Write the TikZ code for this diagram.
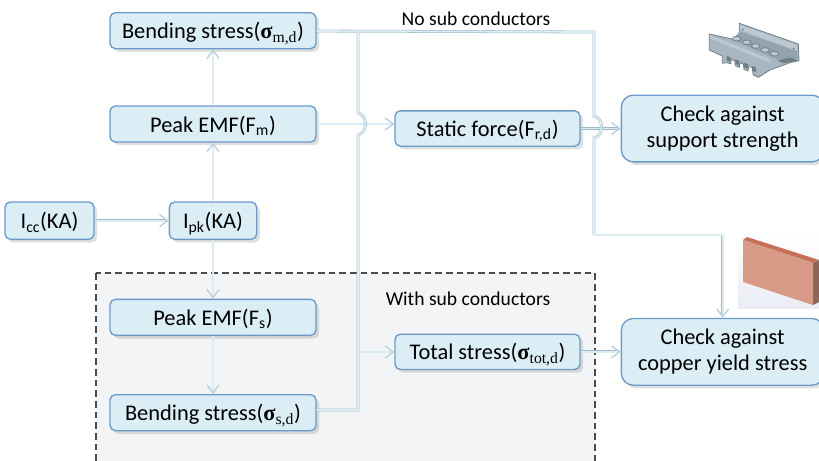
\documentclass[tikz,border=0pt]{standalone}
\usepackage{fontspec}
\setmainfont{Carlito}
\newfontfamily\sigmafont{Liberation Serif}
\usetikzlibrary{arrows.meta, positioning, shadows}

\definecolor{boxfill}{HTML}{DBEEF6}
\definecolor{boxline}{HTML}{6C9BC8}
\definecolor{wirefill}{HTML}{DCECF3}
\definecolor{wireline}{HTML}{A0BAC8}
\definecolor{wiretip}{HTML}{B9D0DC}
\definecolor{areafill}{HTML}{F3F4F5}
\definecolor{clampfill}{HTML}{A7B6C0}
\definecolor{clamplight}{HTML}{BCC9D1}
\definecolor{clampmid}{HTML}{93A3AE}
\definecolor{clampdark}{HTML}{6F7F89}
\definecolor{barfront}{HTML}{D69A87}
\definecolor{bartop}{HTML}{C8705A}
\definecolor{barside}{HTML}{8C6659}
\definecolor{barback}{HTML}{E9ECF4}

\newcommand{\sigmasub}[1]{{\sigmafont\bfseries σ}\textsubscript{\sigmafont #1}}

\begin{document}
\begin{tikzpicture}
            [x=0.75pt, y=-0.75pt, >={Straight Barb[length=6pt,width=9pt,line width=1pt,color=wiretip]},
            flowbox/.style={rectangle, rounded corners=4pt, align=center, draw=boxline,
                line width=1pt, fill=boxfill, font=\fontsize{16.8}{19.5}\selectfont,
                inner sep=0pt, drop shadow={opacity=0.25, shift={(0.6pt,-0.9pt)}}},
            linebox/.style={flowbox, text height=14pt, text depth=2pt},
            widebox/.style={linebox, minimum width=154.5pt, minimum height=27pt},
            checkbox/.style={flowbox, rounded corners=9pt, minimum width=152pt, minimum height=50pt},
            wire/.style={draw=wireline, line width=0.4pt, double=wirefill, double distance=1.3pt},
            note/.style={font=\fontsize{14.7}{17}\selectfont, inner sep=0pt}]

            \clip (0,0) rectangle (819,461);

            \draw[fill=areafill, draw=black!70, line width=0.9pt, dash pattern=on 5pt off 3pt]
                (96,273) rectangle (595,475);

            \node[widebox] (peakm) at (213,124) {Peak EMF(F\textsubscript{m})};
            \node[widebox] (bendm) [above = 42pt of peakm] {Bending stress(\sigmasub{m,d})};
            \node[linebox, minimum width=65.5pt, minimum height=28pt] (ipk) [below = 44pt of peakm] {I\textsubscript{pk}(KA)};
            \node[linebox, minimum width=66.75pt, minimum height=28pt] (icc) [left = 55.5pt of ipk] {I\textsubscript{cc}(KA)};
            \node[widebox] (peaks) [below = 44pt of ipk] {Peak EMF(F\textsubscript{s})};
            \node[widebox] (bends) [below = 43.5pt of peaks] {Bending stress(\sigmasub{s,d})};
            \node[linebox, minimum width=138.75pt, minimum height=26.5pt] (static) at (487.5,128.5) {Static force(F\textsubscript{r,d})};
            \node[linebox, minimum width=138.75pt, minimum height=26.5pt] (total) [below = 140pt of static] {Total stress(\sigmasub{tot,d})};
            \node[checkbox] (support) [right = 30pt of static] {Check against\\support strength};
            \node[checkbox] (copper) [right = 30pt of total] {Check against\\copper yield stress};

            \node[note] (nosub) at (476,19) {No sub conductors};
            \node[note] (withsub) at (468,299) {With sub conductors};

            \coordinate (tapm) at (358,32);
            \coordinate (turnm) at (594,32);
            \coordinate (turnlow) at (594,235);
            \coordinate (tapsum) at (358,352);
            \coordinate (turns) at (358,410);

            \draw[wire, ->] (icc) -- (ipk);
            \draw[wire, ->] (ipk) -- (peakm);
            \draw[wire, ->] (peakm) -- (bendm);
            \draw[wire, ->] (ipk) -- (peaks);
            \draw[wire, ->] (peaks) -- (bends);
            \draw[wire, ->] (peakm) -- (peakm -| static.west);
            \draw[wire, ->] (static) -- (support);
            \draw[wire, ->] (total) -- (copper);

            \draw[wire] (bendm) -- (turnm) -- (594,116)
                .. controls (604,118) and (604,136) .. (594,138)
                -- (turnlow);
            \draw[wire, ->] (turnlow) -- (turnlow -| copper) -- (copper);
            \draw[wire] (tapm) -- (358,113)
                .. controls (368,115) and (368,133) .. (358,135)
                -- (turns) -- (bends.east |- turns);
            \draw[wire, ->] (tapsum) -- (tapsum -| total.west);

            % clamp
            \begin{scope}[shift={(690,20)}, x=0.25pt, y=-0.25pt, line width=0.6pt, line join=round]
                \filldraw[fill=clampfill, draw=clampdark] (148,10) -- (325,72) -- (327,122) -- (300,128) -- (240,150)
                    -- (205,172) -- (190,165) -- (186,142) -- (176,140) -- (174,153) -- (162,148) -- (160,132)
                    -- (150,128) -- (148,142) -- (136,137) -- (134,122) -- (124,118) -- (122,131) -- (108,128)
                    -- (97,130) -- (97,108) -- (58,90) -- (58,42) -- (130,58) -- (148,40) -- cycle;
                \fill[clamplight] (150,14) -- (322,76) -- (322,92) -- (150,30) -- cycle;
                \fill[clampmid] (148,34) -- (322,94) -- (322,120) -- (262,118) -- (130,60) -- cycle;
                \fill[clamplight] (60,45) -- (240,118) -- (240,128) -- (60,55) -- cycle;
                \fill[clampdark] (262,122) -- (300,112) -- (322,122) -- (280,130) -- cycle;
                \foreach \bumpx/\bumpy in {140/56, 170/67, 197/78, 225/90, 253/101}
                    \filldraw[fill=clamplight, draw=clampdark] (\bumpx,\bumpy) ellipse [x radius=13, y radius=7];
                \foreach \slotx/\sloty in {110/108, 136/118, 162/128, 186/138}
                    \fill[clampdark] (\slotx,\sloty) -- ++(12,4) -- ++(0,14) -- ++(-12,-4) -- cycle;
                \fill[clampdark] (158,29) circle [radius=3];
                \fill[clampdark] (311,86) circle [radius=3];
            \end{scope}

            % copper bar
            \shade[top color=white, bottom color=barback] (738,234) rectangle (819,308);
            \fill[barside] (813,263) -- (819,260) -- (819,302) -- (813,305) -- cycle;
            \fill[bartop] (743,240) -- (747,237) -- (819,260) -- (813,263) -- cycle;
            \fill[barfront] (743,240) -- (813,263) -- (813,305) -- (743,282) -- cycle;

        \end{tikzpicture}
\end{document}
